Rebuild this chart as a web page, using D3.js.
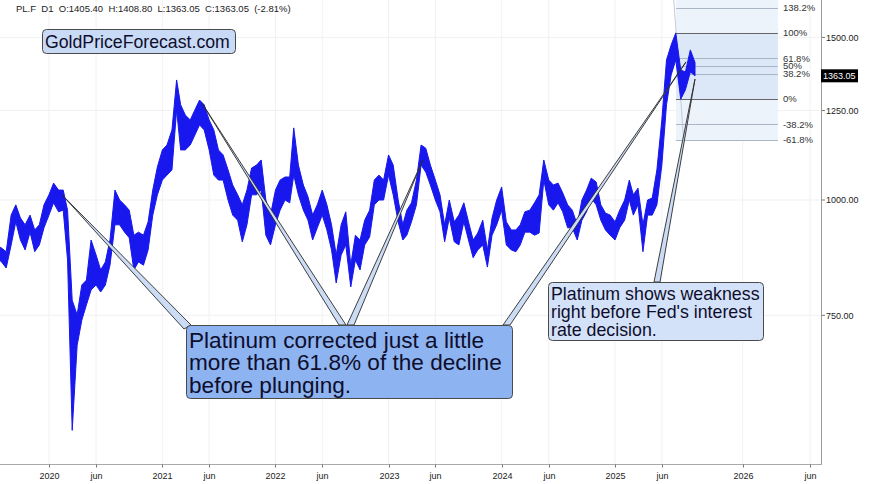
<!DOCTYPE html>
<html><head><meta charset="utf-8">
<script src="https://cdn.jsdelivr.net/npm/d3@7"></script>
<style>
html,body{margin:0;padding:0;background:#fff;}
svg{display:block;font-family:"Liberation Sans",Arial,Helvetica,sans-serif;}
</style></head><body><svg id="c" width="875" height="484"></svg>
<script>
// ---- DATA (semi-monthly high / low, 1st & 16th of each month) ----
const firstPeriod = "2019-07-16";
const lastPeriod = "2025-09-16";
const highs2019 = [894,887,879,963,988,956,940,963,928,940,988];
const lows2019  = [866,857,844,894,947,905,883,923,879,894,933];
const highs2020 = [1013,1043,1025,1025,975,779,751,809,819,905,872,840,857,905,1025,1000,988,975,916,923,916,947,1025,1086];
const lows2020  = [963,993,971,975,861,563,696,741,770,799,809,795,809,850,940,940,923,910,840,857,850,883,963,1013];
const highs2021 = [1133,1147,1191,1349,1268,1236,1221,1252,1283,1268,1221,1191,1133,1119,1078,1038,1013,988,1025,1083,1091,1105,1000,963];
const lows2021  = [1051,1064,1078,1252,1133,1133,1147,1176,1206,1191,1133,1064,1051,1051,1000,963,951,901,940,1013,1013,1025,916,894];
const highs2022 = [1025,1051,1059,1059,1197,1091,1038,1008,963,988,1025,988,940,872,940,971,850,916,905,951,975,1051,1064,1051];
const lows2022  = [940,975,1000,993,1064,1013,975,951,905,933,963,928,883,813,872,894,805,861,840,894,912,988,1000,1000];
const highs2023 = [1119,1091,1000,940,975,993,1051,1147,1138,1091,1051,1013,940,1000,947,963,993,947,905,921,951,883,956,1000];
const lows2023  = [1064,1013,947,905,916,947,988,1091,1072,1038,1000,971,901,956,901,894,947,905,866,883,894,846,916,940];
const highs2024 = [1033,947,928,928,940,971,975,993,1013,1105,1051,1038,1043,1018,988,975,940,1000,1025,1056,1046,988,968,963];
const lows2024  = [975,894,883,879,894,923,923,916,921,1051,988,975,993,971,933,933,905,951,971,1005,988,951,928,916];
const highs2025 = [947,975,1000,1051,1013,1030,940,1000,1005,1078,1221,1418,1472,1517,1383,1376,1454,1409];
const lows2025  = [905,933,951,1000,963,988,879,963,963,988,1091,1268,1366,1418,1286,1316,1376,1363];

const headerText = "PL.F  D1  O:1405.40  H:1408.80  L:1363.05  C:1363.05  (-2.81%)";
const lastClose = 1363.05;
const yTicks = [750, 1000, 1250, 1500];
const xTickDates = ["2020-01-01","2020-06-01","2021-01-01","2021-06-01","2022-01-01","2022-06-01","2023-01-01","2023-06-01","2024-01-01","2024-06-01","2025-01-01","2025-06-01","2026-01-01","2026-06-01"];
const xTickLabels = ["2020","jun","2021","jun","2022","jun","2023","jun","2024","jun","2025","jun","2026","jun"];

// Fibonacci retracement (anchors)
const fibHigh = {date:"2025-07-17", price:1517};
const fibLow  = {date:"2025-08-01", price:1286};
const fibEnd  = "2026-03-21";
const fibLevels = [1.618, 1.382, 1, 0.618, 0.5, 0.382, 0, -0.382, -0.618];
const fibLabels = ["", "138.2%", "100%", "61.8%", "50%", "38.2%", "0%", "-38.2%", "-61.8%"];

// Callout pointer targets
const pointerTargets = [
  {date:"2020-02-12", price:1013},
  {date:"2021-05-09", price:1273},
  {date:"2023-04-22", price:1105},
  {date:"2025-08-18", price:1411},
  {date:"2025-09-16", price:1352}
];
const brandText = "GoldPriceForecast.com";
const note1 = ["Platinum corrected just a little","more than 61.8% of the decline","before plunging."];
const note2 = ["Platinum shows weakness","right before Fed's interest","rate decision."];

// ---- BUILD ----
const P = s => { const [a,b,c] = s.split("-").map(Number); return new Date(Date.UTC(a,b-1,c)); };
const highs = [].concat(highs2019,highs2020,highs2021,highs2022,highs2023,highs2024,highs2025);
const lows  = [].concat(lows2019,lows2020,lows2021,lows2022,lows2023,lows2024,lows2025);
const dates = [];
{ let d = P(firstPeriod); const end = P(lastPeriod);
  while (d <= end) { dates.push(d);
    d = d.getUTCDate() === 1 ? new Date(Date.UTC(d.getUTCFullYear(), d.getUTCMonth(), 16))
                             : new Date(Date.UTC(d.getUTCFullYear(), d.getUTCMonth()+1, 1)); } }
const series = dates.map((d,i)=>({date:d, high:highs[i], low:lows[i]}));

const svg = d3.select("#c");
const R = 821, B = 464.5;
const x = d3.scaleUtc().domain([P("2019-07-27"), P("2025-09-16"), P("2026-06-01")]).range([0, 695, 810]);
const y = d3.scaleLog().domain([1000, 1500]).range([200, 200 - 401*Math.log(1.5)]);

svg.append("rect").attr("width",875).attr("height",484).attr("fill","#fff");
svg.append("clipPath").attr("id","plot").append("rect").attr("x",0).attr("y",0).attr("width",R).attr("height",B);
const g = svg.append("g").attr("clip-path","url(#plot)");

// grid
xTickDates.forEach(s => g.append("line").attr("x1",x(P(s))).attr("x2",x(P(s))).attr("y1",0).attr("y2",B).attr("stroke","#f1f1f1"));
yTicks.forEach(v => g.append("line").attr("x1",0).attr("x2",R).attr("y1",y(v)).attr("y2",y(v)).attr("stroke","#f1f1f1"));

// fib
const lH = Math.log(fibHigh.price), lL = Math.log(fibLow.price);
const fibPrice = r => Math.exp(lL + r*(lH-lL));
const fx0 = x(P(fibHigh.date)), fx1 = x(P(fibEnd));
const bands = [[1.618,1,"#edf3fb"],[1,0,"#dce7f7"],[0,-0.618,"#edf3fb"]];
bands.forEach(([a,b,c]) => g.append("rect").attr("x",fx0).attr("width",fx1-fx0)
  .attr("y",y(fibPrice(a))).attr("height",y(fibPrice(b))-y(fibPrice(a))).attr("fill",c));
// fib trend line
{ const xa = x(P(fibHigh.date)), ya = y(fibHigh.price), xb = x(P(fibLow.date)), yb = y(fibLow.price);
  const k = (xb-xa)/(yb-ya); const yt = y(fibPrice(1.618)), ybt = y(fibPrice(-0.618));
  g.append("line").attr("x1",xa+(yt-ya)*k).attr("y1",yt).attr("x2",xa+(ybt-ya)*k).attr("y2",ybt).attr("stroke","#c4ccd8").attr("stroke-width",1); }
fibLevels.forEach((r,i) => { if (r === 1.618) return;
  const yy = Math.round(y(fibPrice(r)))+0.5;
  g.append("line").attr("x1",fx0).attr("x2",fx1).attr("y1",yy).attr("y2",yy)
   .attr("stroke",(r===1||r===0)?"#666":"#aab5c6").attr("stroke-width",1); });

// price band
const area = d3.area().x(d=>x(d.date)).y0(d=>y(d.low)).y1(d=>y(d.high));
g.append("path").datum(series).attr("d",area).attr("fill","#1717ee").attr("stroke","#1717ee").attr("stroke-width",1).attr("stroke-linejoin","miter");

// fib labels
fibLevels.forEach((r,i) => { if (!fibLabels[i]) return;
  svg.append("text").attr("x",fx1+5).attr("y",y(fibPrice(r))).attr("dy","0.35em")
   .attr("font-size",9.5).attr("fill","#333").text(fibLabels[i]); });

// pointers
const bases = [[[184,329],[191,325]],[[339,325],[346,325]],[[347,325],[354,325]],[[503,325],[510,325]],[[654,282],[660,282]]];
pointerTargets.forEach((t,i) => {
  const tip = [x(P(t.date)), y(t.price)];
  svg.append("path").attr("d", d3.line()([tip, bases[i][0], bases[i][1]]) + "Z")
    .attr("fill","#cddcf5").attr("stroke","#2a2a2a").attr("stroke-width",0.9).attr("stroke-linejoin","round");
});

// boxes
function box(x0,y0,w,h,fill,lines,fs,lh,base){
  svg.append("rect").attr("x",x0+0.5).attr("y",y0+0.5).attr("width",w).attr("height",h).attr("rx",4)
    .attr("fill",fill).attr("stroke","#4a4a4a").attr("stroke-width",1);
  lines.forEach((t,i)=>svg.append("text").attr("x",x0+3).attr("y",base+i*lh).attr("font-size",fs).attr("fill","#0e0e2c").text(t));
}
box(42,29,193,24,"#c8daf5",[brandText],17.7,0,47.5);
box(186,325,326,73,"#8db3f1",note1,22.6,22.3,348);
box(548,282,215,58,"#d4e2f9",note2,17.8,18,300);

// header
svg.append("text").attr("x",16).attr("y",11.5).attr("font-size",9.5).attr("fill","#222").style("white-space","pre").text(headerText);

// axes
svg.append("line").attr("x1",R+0.5).attr("x2",R+0.5).attr("y1",0).attr("y2",B).attr("stroke","#9a9a9a");
svg.append("line").attr("x1",0).attr("x2",R+1).attr("y1",B).attr("y2",B).attr("stroke","#aaa").attr("stroke-width",1.2);
yTicks.forEach(v => {
  svg.append("line").attr("x1",R+1).attr("x2",R+4).attr("y1",y(v)).attr("y2",y(v)).attr("stroke","#777");
  svg.append("text").attr("x",R+5).attr("y",y(v)).attr("dy","0.35em").attr("font-size",9).attr("fill","#222").text(d3.format(".2f")(v));
});
xTickDates.forEach((s,i) => { const xx = Math.round(x(P(s)))+0.5;
  svg.append("line").attr("x1",xx).attr("x2",xx).attr("y1",B).attr("y2",B+3).attr("stroke","#777");
  svg.append("text").attr("x",xx).attr("y",479).attr("text-anchor","middle").attr("font-size",9).attr("fill","#222").text(xTickLabels[i]);
});
// last price tag
{ const yy = y(lastClose);
  svg.append("rect").attr("x",R).attr("y",yy-6.5).attr("width",37).attr("height",13).attr("fill","#000");
  svg.append("text").attr("x",R+2).attr("y",yy).attr("dy","0.35em").attr("font-size",9).attr("fill","#fff").text(d3.format(".2f")(lastClose)); }
</script></body></html>
